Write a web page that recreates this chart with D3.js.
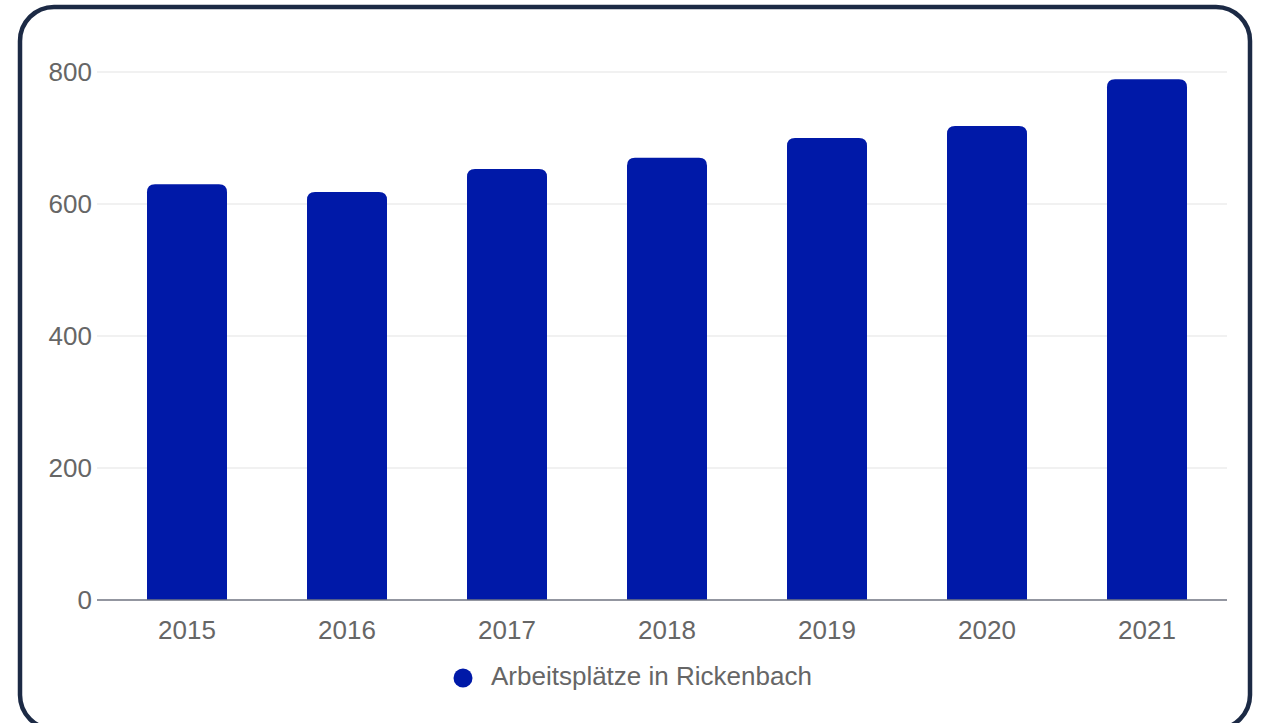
<!DOCTYPE html>
<html>
<head>
<meta charset="utf-8">
<script src="https://cdn.jsdelivr.net/npm/d3@7"></script>
<style>
  body { margin: 0; background: #fff; }
  svg { display: block; font-family: "Liberation Sans", Arial, sans-serif; }
</style>
</head>
<body>
<script>
const years = ["2015", "2016", "2017", "2018", "2019", "2020", "2021"];
const jobs = [630, 618, 653, 670, 700, 718, 789];
const yTicks = [0, 200, 400, 600, 800];
const seriesName = "Arbeitsplätze in Rickenbach";

const width = 1265,
  height = 723;
const barColor = "#0019a8";
const textColor = "#666666";

const svg = d3.select("body").append("svg")
  .attr("width", width)
  .attr("height", height);

// card frame (bottom edge runs just off the picture)
svg.append("rect")
  .attr("x", 20).attr("y", 7)
  .attr("width", 1230).attr("height", 722)
  .attr("rx", 34).attr("ry", 34)
  .attr("fill", "#fff")
  .attr("stroke", "#1c2a45")
  .attr("stroke-width", 4.5);

const x = d3.scaleBand()
  .domain(years)
  .range([107, 1227])
  .paddingInner(0.5)
  .paddingOuter(0.25);

const y = d3.scaleLinear()
  .domain([0, 800])
  .range([600, 72]);

// gridlines
svg.append("g")
  .selectAll("line")
  .data(yTicks.filter(d => d > 0))
  .join("line")
  .attr("x1", 97).attr("x2", 1227)
  .attr("y1", d => y(d)).attr("y2", d => y(d))
  .attr("stroke", "#e3e3e3")
  .attr("stroke-width", 1);

// y labels
svg.append("g")
  .selectAll("text")
  .data(yTicks)
  .join("text")
  .attr("x", 92)
  .attr("y", d => y(d))
  .attr("dy", "0.35em")
  .attr("text-anchor", "end")
  .attr("fill", textColor)
  .attr("font-size", 26)
  .text(d => d);

// bars, rounded top corners only
const r = 8;
svg.append("g")
  .selectAll("path")
  .data(jobs)
  .join("path")
  .attr("fill", barColor)
  .attr("d", (d, i) => {
    const x0 = x(years[i]), x1 = x0 + x.bandwidth();
    const y0 = y(d), yb = y(0);
    return `M${x0},${yb}V${y0 + r}Q${x0},${y0} ${x0 + r},${y0}H${x1 - r}Q${x1},${y0} ${x1},${y0 + r}V${yb}Z`;
  });

// baseline
svg.append("line")
  .attr("x1", 97).attr("x2", 1227)
  .attr("y1", y(0)).attr("y2", y(0))
  .attr("stroke", "#6f7380")
  .attr("stroke-width", 1.5);

// x labels
svg.append("g")
  .selectAll("text")
  .data(years)
  .join("text")
  .attr("x", d => x(d) + x.bandwidth() / 2)
  .attr("y", 639)
  .attr("text-anchor", "middle")
  .attr("fill", textColor)
  .attr("font-size", 26)
  .text(d => d);

// legend
const legend = svg.append("g");
legend.append("circle")
  .attr("cx", 463).attr("cy", 678).attr("r", 9.5)
  .attr("fill", barColor);
legend.append("text")
  .attr("x", 491).attr("y", 685)
  .attr("fill", textColor)
  .attr("font-size", 26)
  .text(seriesName);
</script>
</body>
</html>
